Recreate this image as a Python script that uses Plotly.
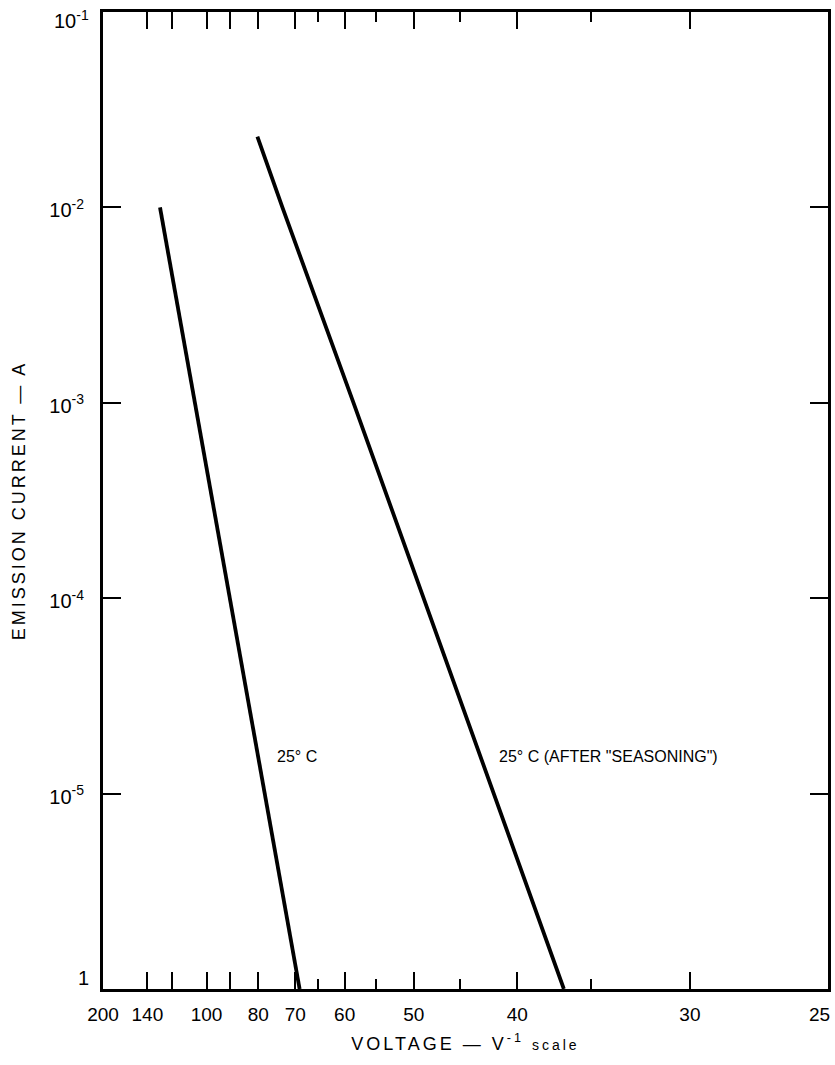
import plotly.graph_objects as go

# Data (voltage in V, emission current in A)
volt_25c = [129.0, 105.9, 89.8, 78.0, 69.0]
curr_25c = [1e-2, 1e-3, 1e-4, 1e-5, 1e-6]

volt_seasoned = [80.3, 73.2, 58.5, 48.8, 41.9, 36.7]
curr_seasoned = [2.3e-2, 1e-2, 1e-3, 1e-4, 1e-5, 1e-6]

# Axis ticks
x_major_volts = [200, 140, 120, 100, 90, 80, 70, 60, 50, 40, 30, 25]
x_major_text = ["200", "140", "", "100", "", "80", "70", "60", "50", "40", "30", ""]
x_edge_volt = 25
x_edge_text = "25"
x_minor_volts = [65, 55, 45, 35]
y_tick_vals = [1e-6, 1e-5, 1e-4, 1e-3, 1e-2, 1e-1]
y_tick_text = ["", "10<sup>-5</sup>", "10<sup>-4</sup>", "10<sup>-3</sup>",
               "10<sup>-2</sup>", ""]
y_top_exp = -1
y_top_text = "10<sup>-1</sup>"
y_bottom_exp = -6
y_bottom_text = "1"

FONT = "Liberation Sans, Arial, sans-serif"

def inv(v):
    return [1.0 / x for x in v]

X_RANGE = [1.0 / 200, 1.0 / 25]
Y_RANGE = [-6, -1]

fig = go.Figure()
fig.add_trace(go.Scatter(x=inv(volt_25c), y=curr_25c, mode="lines",
                         line=dict(color="black", width=3.8), showlegend=False))
fig.add_trace(go.Scatter(x=inv(volt_seasoned), y=curr_seasoned, mode="lines",
                         line=dict(color="black", width=3.8), showlegend=False))

fig.add_annotation(x=1.0 / 75.1, y=-4.81, xref="x", yref="y", text="25° C",
                   showarrow=False, xanchor="left", yanchor="middle",
                   font=dict(family=FONT, size=16, color="black"))
fig.add_annotation(x=1.0 / 41.6, y=-4.81, xref="x", yref="y",
                   text="25° C (AFTER \"SEASONING\")",
                   showarrow=False, xanchor="left", yanchor="middle",
                   font=dict(family=FONT, size=16, color="black"))

# Edge tick labels (shifted inward as in the original drawing)
fig.add_annotation(x=0, xref="paper", y=y_top_exp, yref="y", text=y_top_text,
                   showarrow=False, xanchor="right", yanchor="middle",
                   xshift=-12, yshift=-7,
                   font=dict(family=FONT, size=20, color="black"))
fig.add_annotation(x=0, xref="paper", y=y_bottom_exp, yref="y", text=y_bottom_text,
                   showarrow=False, xanchor="right", yanchor="middle",
                   xshift=-12, yshift=11,
                   font=dict(family=FONT, size=20, color="black"))
fig.add_annotation(x=1.0 / x_edge_volt, xref="x", y=0, yref="paper", text=x_edge_text,
                   showarrow=False, xanchor="center", yanchor="middle",
                   xshift=-9, yshift=-25,
                   font=dict(family=FONT, size=19, color="black"))

fig.update_layout(
    width=835, height=1065,
    margin=dict(l=103, r=7, t=12, b=76),
    paper_bgcolor="white", plot_bgcolor="white",
    font=dict(family=FONT, size=20, color="black"),
    xaxis=dict(
        range=X_RANGE, automargin=False,
        tickmode="array", tickvals=inv(x_major_volts), ticktext=x_major_text,
        ticks="inside", ticklen=17, tickwidth=2, tickcolor="black",
        minor=dict(tickmode="array", tickvals=inv(x_minor_volts), ticks="inside",
                   ticklen=10, tickwidth=2, tickcolor="black", showgrid=False),
        showline=True, linecolor="black", linewidth=3, mirror="allticks",
        showgrid=False, zeroline=False,
        ticklabelstandoff=6, ticklabeloverflow="allow",
        tickfont=dict(size=19),
        title=dict(text="VOLTAGE — V<sup>-1</sup> <span style='font-size:14px'>scale</span>",
                   font=dict(size=18), standoff=14),
    ),
    yaxis=dict(
        type="log", range=Y_RANGE, automargin=False,
        tickmode="array", tickvals=y_tick_vals, ticktext=y_tick_text,
        ticks="inside", ticklen=18, tickwidth=2, tickcolor="black",
        showline=True, linecolor="black", linewidth=3, mirror="allticks",
        showgrid=False, zeroline=False,
        ticklabelstandoff=12, ticklabeloverflow="allow", ticklabelshift=3,
        tickfont=dict(size=20),
        title=dict(text="EMISSION CURRENT — A", font=dict(size=18), standoff=19),
    ),
)

post = """
document.body.style.margin = '0';
document.querySelectorAll('.xtitle, .ytitle').forEach(function(e){
  e.style.letterSpacing = '3px';
});
"""

fig.write_html("out.html", post_script=post, config={"displayModeBar": False})
